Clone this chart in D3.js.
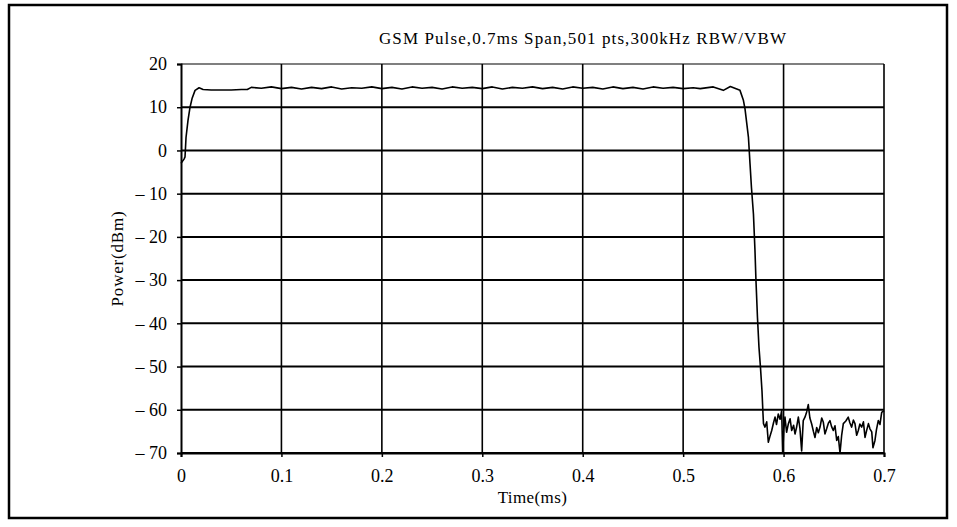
<!DOCTYPE html>
<html>
<head>
<meta charset="utf-8">
<script src="https://cdn.jsdelivr.net/npm/d3@7"></script>
<style>
  body { margin: 0; background: #fff; }
  svg { display: block; }
  text { font-family: "Liberation Serif", "DejaVu Serif", serif; fill: #000; }
</style>
</head>
<body>
<svg></svg>
<script>
const title = 'GSM Pulse,0.7ms Span,501 pts,300kHz RBW/VBW';
const xTicks = [0, 0.1, 0.2, 0.3, 0.4, 0.5, 0.6, 0.7];
const yTicks = [20, 10, 0, -10, -20, -30, -40, -50, -60, -70];

// trace: [time ms, power dBm]
const riseTrace = [
    [0, -3], [0.003, -2], [0.004, -1.5], [0.005, 3], [0.007, 7], [0.009, 10],
    [0.011, 12], [0.014, 13.9], [0.018, 14.5], [0.022, 14.1], [0.03, 14.0],
    [0.04, 14.0], [0.05, 14.0], [0.06, 14.1], [0.066, 14.1], [0.07, 14.6]
];
const topTrace = [
    [0.08, 14.4], [0.09, 14.7], [0.10, 14.3], [0.11, 14.6], [0.12, 14.2],
    [0.13, 14.6], [0.14, 14.3], [0.15, 14.7], [0.16, 14.2], [0.17, 14.5],
    [0.18, 14.4], [0.19, 14.7], [0.20, 14.3], [0.21, 14.6], [0.22, 14.2],
    [0.23, 14.7], [0.24, 14.4], [0.25, 14.6], [0.26, 14.2], [0.27, 14.7],
    [0.28, 14.4], [0.29, 14.6], [0.30, 14.3], [0.31, 14.7], [0.32, 14.2],
    [0.33, 14.6], [0.34, 14.4], [0.35, 14.7], [0.36, 14.3], [0.37, 14.6],
    [0.38, 14.2], [0.39, 14.7], [0.40, 14.4], [0.41, 14.6], [0.42, 14.2],
    [0.43, 14.7], [0.44, 14.3], [0.45, 14.6], [0.46, 14.2], [0.47, 14.7],
    [0.48, 14.4], [0.49, 14.6], [0.50, 14.3], [0.51, 14.5], [0.517, 14.3],
    [0.53, 14.7], [0.54, 13.9], [0.547, 14.8], [0.5566, 13.9]
];
const fallTrace = [
    [0.560, 11.6], [0.5616, 9.6], [0.565, 3.1], [0.5666, -3.1], [0.568, -8.5],
    [0.570, -14.7], [0.5715, -23], [0.5725, -30], [0.574, -38.6], [0.5755, -45.5],
    [0.577, -50.2], [0.5785, -55.6], [0.5795, -60.9], [0.580, -63.2]
];
const noiseTrace = [
    [0.5815, -64], [0.5832, -62.8], [0.5848, -67.5], [0.5865, -66.1], [0.5882, -64.8],
    [0.590, -63.0], [0.5915, -61.7], [0.593, -63.4], [0.5947, -61], [0.5965, -62.2],
    [0.5981, -60.2], [0.5991, -70], [0.6003, -64.5], [0.6014, -61.7], [0.603, -65.2],
    [0.6047, -63.3], [0.6065, -62.1], [0.6081, -64.8], [0.610, -63.6], [0.6114, -65.6],
    [0.613, -64.0], [0.6147, -61.7], [0.6163, -64.3], [0.6180, -69.5], [0.6196, -62.5],
    [0.6213, -61.7], [0.623, -60.5], [0.6246, -58.8], [0.6262, -61.9], [0.628, -63.3],
    [0.6297, -65.0], [0.6313, -66.4], [0.633, -64.1], [0.6346, -65.3], [0.6363, -64],
    [0.638, -61.9], [0.6396, -62.9], [0.6412, -65.6], [0.6429, -64.4], [0.6446, -63.1],
    [0.6462, -62.5], [0.6478, -63.9], [0.6495, -64.8], [0.6512, -63.7], [0.6529, -67.1],
    [0.6545, -66.2], [0.6562, -70], [0.6578, -66.0], [0.6595, -63.2], [0.662, -62.6],
    [0.6644, -61.7], [0.666, -63.0], [0.6678, -64], [0.6695, -62.4], [0.6711, -63.2],
    [0.6728, -65.9], [0.6744, -64.8], [0.676, -63.3], [0.6778, -64], [0.6795, -62.8],
    [0.6811, -66.4], [0.6828, -64.7], [0.6845, -63.2], [0.686, -64.4], [0.6878, -65.1],
    [0.689, -68.8], [0.691, -67.1], [0.6925, -64.6], [0.6943, -62.5], [0.696, -63.4],
    [0.6977, -60.6], [0.700, -60.2]
];

const [width, height] = [957, 527];
const margin = {top: 64, right: 73, bottom: 74, left: 181};

const svg = d3.select('svg')
    .attr('width', width)
    .attr('height', height);

// outer frame
svg.append('rect')
    .attr('x', 9).attr('y', 5)
    .attr('width', 938).attr('height', 513)
    .attr('fill', 'none')
    .attr('stroke', '#000')
    .attr('stroke-width', 2.5);

const x = d3.scaleLinear().domain([0, 0.7]).range([margin.left, width - margin.right]);
const y = d3.scaleLinear().domain([-70, 20]).range([height - margin.bottom, margin.top]);

// grid
svg.append('g')
    .selectAll('line')
    .data(yTicks)
    .enter()
    .append('line')
    .attr('x1', x(0)).attr('x2', x(0.7))
    .attr('y1', d => y(d)).attr('y2', d => y(d))
    .attr('stroke', '#000')
    .attr('stroke-width', d => d === 20 ? 1.2 : 2);

svg.append('g')
    .selectAll('line')
    .data(xTicks.slice(1))
    .enter()
    .append('line')
    .attr('x1', d => x(d)).attr('x2', d => x(d))
    .attr('y1', y(20)).attr('y2', y(-70))
    .attr('stroke', '#000')
    .attr('stroke-width', 1.6);

// axes
const fmtY = d => d < 0 ? '\u2013 ' + Math.abs(d) : String(d);

const yAxis = svg.append('g')
    .attr('transform', `translate(${x(0)},0)`)
    .call(d3.axisLeft(y).tickValues(yTicks).tickSize(4).tickPadding(10).tickFormat(fmtY));

const xAxis = svg.append('g')
    .attr('transform', `translate(0,${y(-70)})`)
    .call(d3.axisBottom(x).tickValues(xTicks).tickSize(4).tickPadding(12).tickFormat(d => String(d)));

[yAxis, xAxis].forEach(g => {
    g.select('.domain').attr('stroke', '#000').attr('stroke-width', 2);
    g.selectAll('.tick line').attr('stroke', '#000').attr('stroke-width', 1.5);
    g.selectAll('.tick text')
        .style('font-family', '"Liberation Serif", serif')
        .style('font-size', '18px')
        .attr('fill', '#000');
});

// trace
const trace = riseTrace.concat(topTrace, fallTrace, noiseTrace);
const line = d3.line()
    .x(d => x(d[0]))
    .y(d => y(d[1]));

svg.append('path')
    .datum(trace)
    .attr('d', line)
    .attr('fill', 'none')
    .attr('stroke', '#000')
    .attr('stroke-width', 1.6)
    .attr('stroke-linejoin', 'round');

// texts
svg.append('text')
    .attr('x', 583).attr('y', 44)
    .attr('text-anchor', 'middle')
    .style('font-size', '17px')
    .style('letter-spacing', '1.1px')
    .text(title);

svg.append('text')
    .attr('transform', `translate(123,${(y(20) + y(-70)) / 2}) rotate(-90)`)
    .attr('text-anchor', 'middle')
    .style('font-size', '17px')
    .style('letter-spacing', '0.8px')
    .text('Power(dBm)');

svg.append('text')
    .attr('x', x(0.35)).attr('y', 503)
    .attr('text-anchor', 'middle')
    .style('font-size', '17px')
    .style('letter-spacing', '0.4px')
    .text('Time(ms)');
</script>
</body>
</html>
